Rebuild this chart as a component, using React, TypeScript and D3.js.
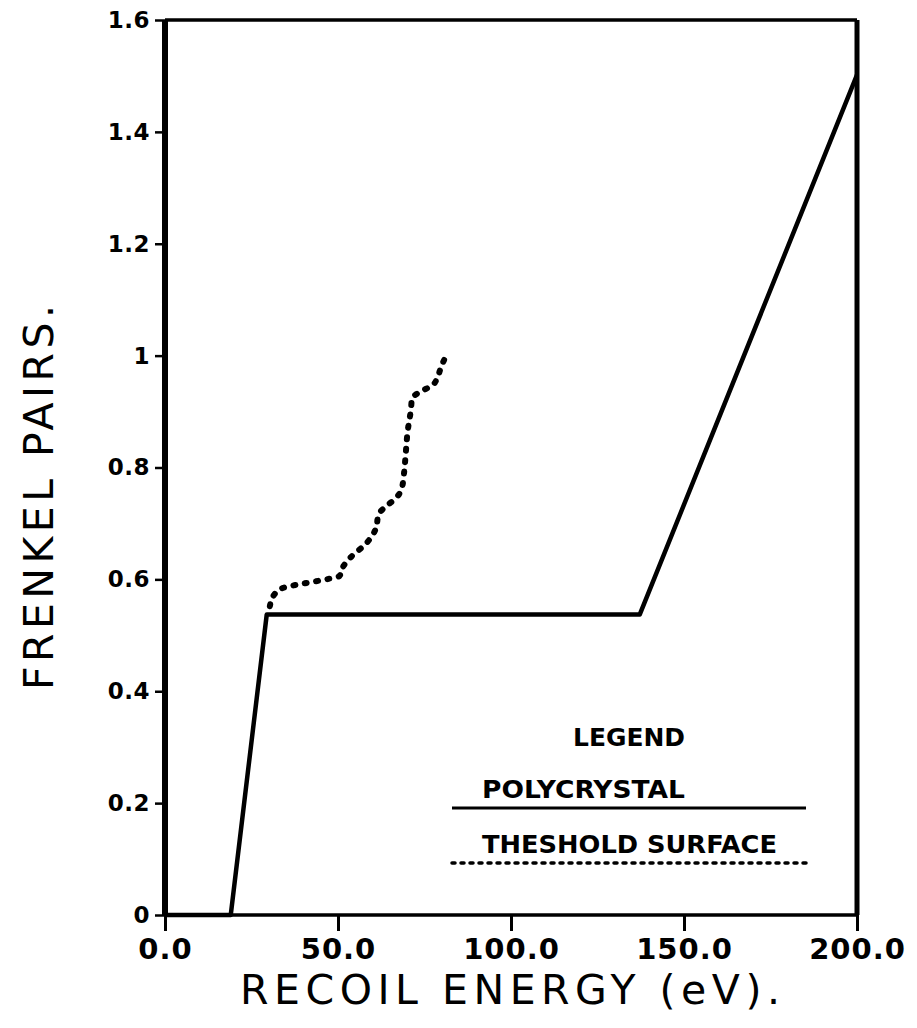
import React, { useEffect, useRef } from 'react';
import * as d3 from 'd3';

// polycrystal curve (solid)
const polyEnergy = [0, 19, 29.4, 137.2, 200];
const polyPairs = [0, 0, 0.537, 0.537, 1.502];

// threshold surface curve (dotted)
const surfEnergy = [30.3, 31.6, 34.2, 40.4, 47.3, 50.4, 51.6, 53.6, 58.4, 60.9, 61.8, 64.2, 66.7, 68.4, 69.1, 69.6, 70.1, 71.1, 71.4, 74.0, 77.3, 78.8, 79.8, 81.1];
const surfPairs = [0.552, 0.573, 0.585, 0.593, 0.601, 0.606, 0.624, 0.639, 0.666, 0.69, 0.717, 0.732, 0.745, 0.762, 0.791, 0.827, 0.863, 0.905, 0.924, 0.936, 0.947, 0.962, 0.98, 0.998];

const xTicks = [0, 50, 100, 150, 200];
const xTickLabels = ['0.0', '50.0', '100.0', '150.0', '200.0'];
const yTicks = [0, 0.2, 0.4, 0.6, 0.8, 1, 1.2, 1.4, 1.6];
const yTickLabels = ['0', '0.2', '0.4', '0.6', '0.8', '1', '1.2', '1.4', '1.6'];

const legendNames = ['POLYCRYSTAL', 'THESHOLD SURFACE'];

const W = 917;
const H = 1028;

const App = () => {
    const svgRef = useRef<SVGSVGElement | null>(null);

    useEffect(() => {
        const svg = d3.select(svgRef.current);
        svg.selectAll('*').remove();

        const margin = { top: 20, right: 60, bottom: 113, left: 165 };
        const innerW = W - margin.left - margin.right;
        const innerH = H - margin.top - margin.bottom;

        const x = d3.scaleLinear().domain([0, 200]).range([0, innerW]);
        const y = d3.scaleLinear().domain([0, 1.6]).range([innerH, 0]);

        const font = '"DejaVu Sans", sans-serif';

        const g = svg.append('g').attr('transform', `translate(${margin.left},${margin.top})`);

        // x axis
        const xAxis = d3.axisBottom(x)
            .tickValues(xTicks)
            .tickSize(16)
            .tickPadding(7)
            .tickFormat((d, i) => xTickLabels[i]);
        const xg = g.append('g').attr('transform', `translate(0,${innerH})`).call(xAxis);
        xg.select('.domain').remove();
        xg.selectAll('line').attr('stroke', '#000').attr('stroke-width', 3);
        xg.selectAll('text')
            .attr('font-family', font)
            .attr('font-weight', 'bold')
            .attr('font-size', 29)
            .attr('letter-spacing', 1)
            .attr('fill', '#000');

        // y axis
        const yAxis = d3.axisLeft(y)
            .tickValues(yTicks)
            .tickSize(10)
            .tickPadding(5)
            .tickFormat((d, i) => yTickLabels[i]);
        const yg = g.append('g').call(yAxis);
        yg.select('.domain').remove();
        yg.selectAll('line').attr('stroke', '#000').attr('stroke-width', 2.5);
        yg.selectAll('text')
            .attr('font-family', font)
            .attr('font-weight', 'bold')
            .attr('font-size', 23)
            .attr('letter-spacing', 0.5)
            .attr('fill', '#000');

        // frame
        g.append('line').attr('x1', 0).attr('x2', innerW).attr('y1', 0).attr('y2', 0)
            .attr('stroke', '#000').attr('stroke-width', 3.5);
        g.append('line').attr('x1', 0).attr('x2', innerW).attr('y1', innerH).attr('y2', innerH)
            .attr('stroke', '#000').attr('stroke-width', 3.5);
        g.append('line').attr('x1', 0).attr('x2', 0).attr('y1', 0).attr('y2', innerH)
            .attr('stroke', '#000').attr('stroke-width', 6);
        g.append('line').attr('x1', innerW).attr('x2', innerW).attr('y1', 0).attr('y2', innerH)
            .attr('stroke', '#000').attr('stroke-width', 5);

        const line = d3.line<[number, number]>()
            .x(d => x(d[0]))
            .y(d => y(d[1]));

        const polyData = polyEnergy.map((e, i) => [e, polyPairs[i]] as [number, number]);
        const surfData = surfEnergy.map((e, i) => [e, surfPairs[i]] as [number, number]);

        g.append('path')
            .datum(polyData)
            .attr('d', line)
            .attr('fill', 'none')
            .attr('stroke', '#000')
            .attr('stroke-width', 4.5)
            .attr('stroke-linejoin', 'round');

        g.append('path')
            .datum(surfData)
            .attr('d', line.curve(d3.curveMonotoneY))
            .attr('fill', 'none')
            .attr('stroke', '#000')
            .attr('stroke-width', 6)
            .attr('stroke-linecap', 'round')
            .attr('stroke-dasharray', '2 9.5');

        // axis titles
        svg.append('text')
            .attr('x', 240)
            .attr('y', 1004)
            .attr('font-family', font)
            .attr('font-size', 41)
            .attr('textLength', 540)
            .attr('lengthAdjust', 'spacing')
            .attr('fill', '#000')
            .text('RECOIL ENERGY (eV).');

        svg.append('text')
            .attr('transform', 'translate(53,690) rotate(-90)')
            .attr('font-family', font)
            .attr('font-size', 41)
            .attr('textLength', 385)
            .attr('lengthAdjust', 'spacing')
            .attr('fill', '#000')
            .text('FRENKEL PAIRS.');

        // legend
        const lg = svg.append('g');
        lg.append('text')
            .attr('x', 573).attr('y', 746)
            .attr('font-family', font).attr('font-weight', 'bold').attr('font-size', 24)
            .attr('textLength', 112).attr('lengthAdjust', 'spacingAndGlyphs')
            .text('LEGEND');

        const legendY = [808, 863];
        const legendTextW = [203, 295];
        legendNames.forEach((name, i) => {
            lg.append('text')
                .attr('x', 482).attr('y', legendY[i] - 10)
                .attr('font-family', font).attr('font-weight', 'bold').attr('font-size', 24)
                .attr('textLength', legendTextW[i]).attr('lengthAdjust', 'spacingAndGlyphs')
                .text(name);
            const l = lg.append('line')
                .attr('x1', 452).attr('x2', 806)
                .attr('y1', legendY[i]).attr('y2', legendY[i])
                .attr('stroke', '#000');
            if (i === 0) {
                l.attr('stroke-width', 3);
            } else {
                l.attr('stroke-width', 3.5)
                    .attr('stroke-linecap', 'round')
                    .attr('stroke-dasharray', '3 6');
            }
        });
    }, []);

    return (
        <svg ref={svgRef} width={W} height={H} style={{ display: 'block', background: '#fff', margin: '-8px' }} />
    );
};

export default App;
